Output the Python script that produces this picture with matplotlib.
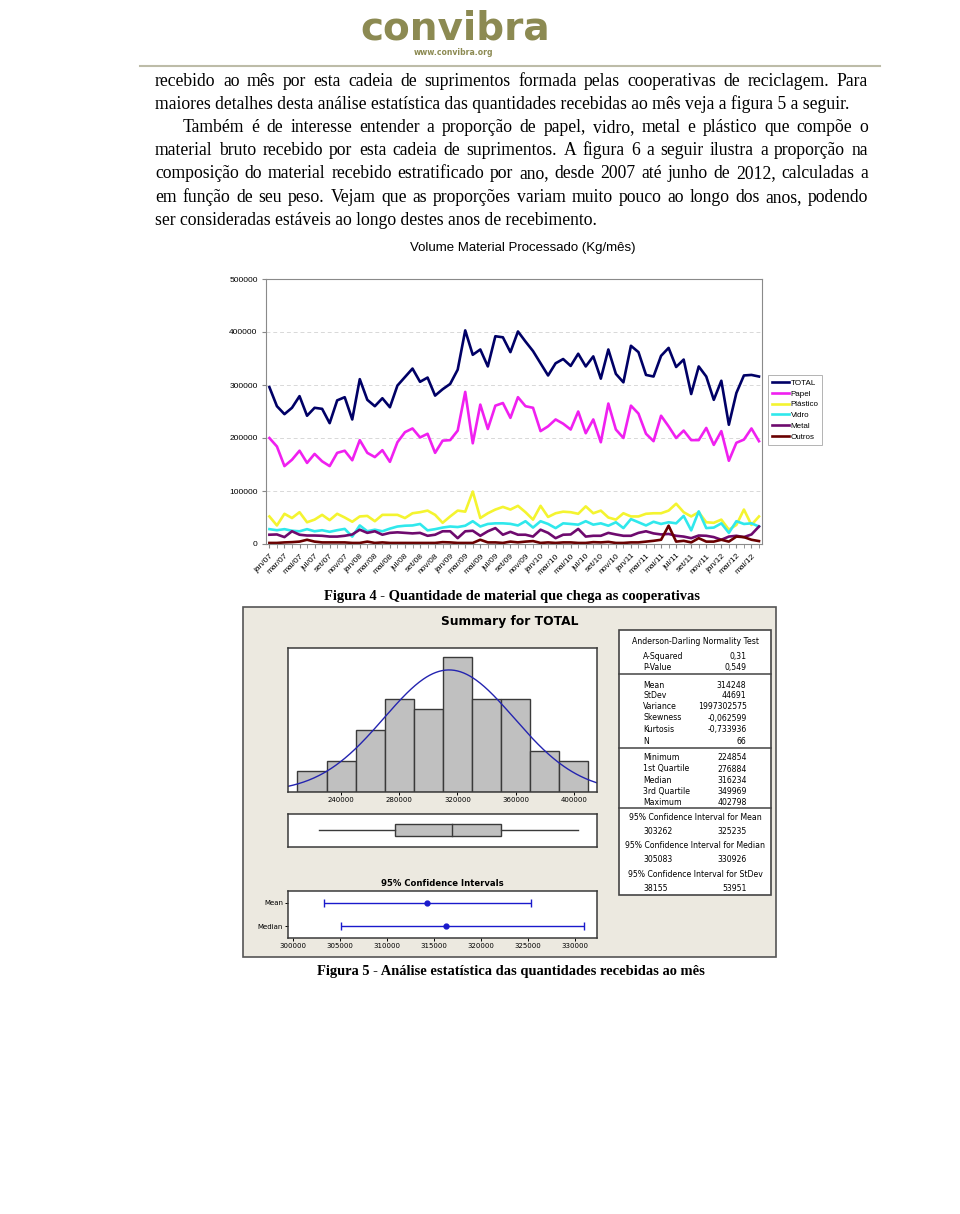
import matplotlib
matplotlib.use('Agg')
import matplotlib.pyplot as plt
import numpy as np
from matplotlib.font_manager import FontProperties
from matplotlib.patches import Rectangle
from matplotlib.lines import Line2D

# ---- data read from the page ----
meses = ['jan', 'fev', 'mar', 'abr', 'mai', 'jun', 'jul', 'ago', 'set', 'out', 'nov', 'dez']
rotulos = [f'{m}/{a:02d}' for a in range(7, 13) for m in meses][:66]

total = [296000, 260000, 245000, 257000, 279000, 242000, 257000, 255000, 228000, 271000,
         277000, 235000, 311000, 272000, 260000, 275000, 258000, 299000, 315000, 331000,
         306000, 314000, 280000, 292000, 302000, 329000, 403000, 357000, 367000, 335000,
         392000, 390000, 362000, 401000, 382000, 364000, 341000, 318000, 341000, 349000,
         336000, 359000, 335000, 354000, 312000, 367000, 321000, 305000, 374000, 362000,
         319000, 316000, 355000, 370000, 334000, 348000, 283000, 335000, 316000, 272000,
         308000, 225000, 285000, 318000, 319000, 316000]
papel = [200000, 184000, 147000, 159000, 176000, 153000, 170000, 156000, 147000, 172000,
         176000, 158000, 196000, 172000, 164000, 177000, 155000, 192000, 211000, 218000,
         201000, 208000, 172000, 195000, 196000, 214000, 287000, 190000, 263000, 217000,
         261000, 266000, 238000, 277000, 260000, 257000, 213000, 222000, 235000, 227000,
         216000, 250000, 209000, 235000, 192000, 265000, 216000, 200000, 261000, 246000,
         208000, 194000, 242000, 222000, 200000, 214000, 196000, 196000, 219000, 187000,
         213000, 157000, 191000, 197000, 218000, 194000]
plastico = [52000, 35000, 57000, 49000, 60000, 41000, 46000, 55000, 45000, 57000,
            50000, 42000, 52000, 53000, 43000, 55000, 55000, 55000, 49000, 58000,
            60000, 63000, 55000, 40000, 52000, 63000, 61000, 99000, 49000, 58000,
            65000, 70000, 65000, 72000, 60000, 46000, 72000, 51000, 58000, 61000,
            60000, 57000, 71000, 58000, 63000, 50000, 46000, 58000, 52000, 52000,
            57000, 58000, 58000, 63000, 76000, 60000, 52000, 60000, 41000, 40000,
            46000, 27000, 36000, 65000, 36000, 52000]
vidro = [28000, 26000, 28000, 25000, 24000, 28000, 24000, 26000, 23000, 26000,
         28500, 14000, 35000, 24000, 27000, 24000, 29000, 33000, 34500, 35000,
         37800, 25700, 28000, 31000, 33000, 32000, 34500, 43000, 33000, 37800,
         39000, 39000, 38000, 35000, 43000, 31000, 43000, 37800, 30000, 39000,
         37800, 36500, 43000, 36500, 39000, 34500, 41000, 30000, 47000, 41000,
         35000, 42000, 37800, 41000, 39000, 53000, 25700, 61600, 30000, 31000,
         39000, 21000, 43000, 37800, 39000, 33000]
metal = [17500, 18000, 13000, 24000, 17500, 16000, 16000, 15500, 14000, 14000,
         15500, 18000, 27000, 21000, 24000, 17500, 21000, 22000, 21000, 20000,
         21000, 15500, 17500, 24000, 24000, 11000, 24000, 25000, 15500, 24000,
         30000, 17500, 23000, 17500, 17500, 14000, 27000, 21000, 11000, 17500,
         18000, 28500, 14000, 15500, 15500, 21000, 18000, 15500, 15500, 21000,
         24000, 20000, 18000, 19000, 15500, 14000, 11000, 16000, 15500, 13000,
         8000, 14000, 15500, 13000, 18000, 33000]
outros = [2000, 2000, 3000, 3500, 4500, 8000, 4500, 3000, 3000, 3000,
          3000, 2000, 2000, 4500, 2000, 3000, 2000, 2000, 2000, 2000,
          2000, 2000, 2000, 3500, 3000, 2000, 2000, 2000, 8000, 3000,
          3000, 2000, 4500, 3000, 4500, 5500, 2000, 3000, 2000, 3000,
          3000, 2000, 2000, 3500, 3000, 4000, 2000, 2000, 3000, 3000,
          4500, 6000, 8000, 34500, 4500, 6000, 3000, 11000, 4500, 4500,
          8000, 4500, 14000, 13000, 8000, 5500]

series = [('TOTAL', total, '#000066'), ('Papel', papel, '#F020F0'),
          ('Plástico', plastico, '#F4F430'), ('Vidro', vidro, '#30E8EC'),
          ('Metal', metal, '#6E0A6E'), ('Outros', outros, '#6A0000')]

# Minitab summary
hist_left = [210000, 230000, 250000, 270000, 290000, 310000, 330000, 350000, 370000, 390000]
hist_counts = [2, 3, 6, 9, 8, 13, 9, 9, 4, 3]
bin_w = 20000
media, desvio, n_obs = 314248, 44691, 66
cinco = dict(minimo=224854, q1=276884, mediana=316234, q3=349969, maximo=402798)
ic_media = (303262, 325235)
ic_mediana = (305083, 330926)

tab_ad = [('A-Squared', '0,31'), ('P-Value', '0,549')]
tab_mom = [('Mean', '314248'), ('StDev', '44691'), ('Variance', '1997302575'),
           ('Skewness', '-0,062599'), ('Kurtosis', '-0,733936'), ('N', '66')]
tab_quart = [('Minimum', '224854'), ('1st Quartile', '276884'), ('Median', '316234'),
             ('3rd Quartile', '349969'), ('Maximum', '402798')]
tab_ic = [('95% Confidence Interval for Mean', '303262', '325235'),
          ('95% Confidence Interval for Median', '305083', '330926'),
          ('95% Confidence Interval for StDev', '38155', '53951')]

texto = [
    'recebido ao mês por esta cadeia de suprimentos formada pelas cooperativas de reciclagem. Para',
    'maiores detalhes desta análise estatística das quantidades recebidas ao mês veja a figura 5 a seguir.',
    'Também é de interesse entender a proporção de papel, vidro, metal e plástico que compõe o',
    'material bruto recebido por esta cadeia de suprimentos. A figura 6 a seguir ilustra a proporção na',
    'composição do material recebido estratificado por ano, desde 2007 até junho de 2012, calculadas a',
    'em função de seu peso. Vejam que as proporções variam muito pouco ao longo dos anos, podendo',
    'ser consideradas estáveis ao longo destes anos de recebimento.',
]
justificar = [True, False, True, True, True, True, False]
recuo = [155, 155, 183, 155, 155, 155, 155]

# ---- page ----
W, H = 960, 1214
fig = plt.figure(figsize=(W / 100, H / 100), dpi=100)
fig.patch.set_facecolor('white')
rend = fig.canvas.get_renderer()
SERIF = 'Liberation Serif'
SANS = 'Liberation Sans'
MINI = 'DejaVu Sans'


def fx(x):
    return x / W


def fy(y):
    return 1 - y / H


def box(x0, y0, x1, y1):
    return [x0 / W, 1 - y1 / H, (x1 - x0) / W, (y1 - y0) / H]


def largura(s, size, family, weight='normal'):
    fp = FontProperties(family=family, size=size, weight=weight)
    return rend.get_text_width_height_descent(s, fp, ismath=False)[0]


def ajusta(s, alvo, family, weight='normal'):
    return 10 * alvo / largura(s, 10, family, weight)


# header logo
oliva = '#8C8A52'
fig.text(fx(455), fy(40), 'convibra', fontsize=ajusta('convibra', 190, MINI, 'bold'),
         family=MINI, weight='bold', color=oliva, ha='center', va='baseline')
fig.text(fx(453), fy(55), 'www.convibra.org', fontsize=ajusta('www.convibra.org', 80, MINI, 'bold'),
         family=MINI, weight='bold', color=oliva, ha='center', va='baseline')
fig.add_artist(Line2D([fx(140), fx(880)], [fy(66), fy(66)], color='#BDBCA8', lw=1.5))

# paragraph, justified word by word
tam = ajusta(texto[1], 851 - 155, SERIF)
for i, linha in enumerate(texto):
    yb = 85.5 + 23.25 * i
    if justificar[i]:
        palavras = linha.split(' ')
        ws = [largura(p, tam, SERIF) for p in palavras]
        gap = (868 - recuo[i] - sum(ws)) / (len(palavras) - 1)
        x = recuo[i]
        for p, wd in zip(palavras, ws):
            fig.text(fx(x), fy(yb), p, fontsize=tam, family=SERIF, va='baseline')
            x += wd + gap
    else:
        fig.text(fx(recuo[i]), fy(yb), linha, fontsize=tam, family=SERIF, va='baseline')

# ---- line chart ----
titulo = 'Volume Material Processado (Kg/mês)'
fig.text(fx(523), fy(248), titulo, fontsize=ajusta(titulo, 227, SANS), family=SANS,
         ha='center', va='center')
ax = fig.add_axes(box(266, 279, 762, 544))
xi = np.arange(len(total))
for nome, vals, cor in series:
    ax.plot(xi, vals, color=cor, lw=1.9, label=nome)
ax.set_xlim(-0.45, 65.4)
ax.set_ylim(0, 500000)
ax.set_yticks(range(0, 500001, 100000))
ax.set_yticklabels([str(v) for v in range(0, 500001, 100000)], family=SANS, fontsize=6)
ax.set_xticks(xi[::2])
ax.set_xticklabels(rotulos[::2], rotation=45, ha='right', rotation_mode='anchor',
                   family=SANS, fontsize=6)
ax.set_xticks(xi, minor=True)
ax.tick_params(axis='x', which='both', length=3, pad=3, color='#888888')
ax.tick_params(axis='y', length=3, pad=3, color='#888888')
ax.yaxis.grid(True, color='#d8d8d8', ls=(0, (4, 3)), lw=0.7)
ax.set_axisbelow(True)
for sp in ax.spines.values():
    sp.set_color('#8a8a8a')
    sp.set_linewidth(0.8)
leg = ax.legend(loc='center left', bbox_to_anchor=(fx(768), fy(410)), bbox_transform=fig.transFigure,
                prop=FontProperties(family=SANS, size=5.8), fancybox=False, edgecolor='#a0a0a0',
                borderpad=0.45, handlelength=2.2, handletextpad=0.15, labelspacing=0.4,
                borderaxespad=0)
leg.get_frame().set_linewidth(0.7)

cap4 = 'Figura 4 - Quantidade de material que chega as cooperativas'
fig.text(fx(511.5), fy(597), cap4, fontsize=ajusta(cap4, 379, SERIF, 'bold'), family=SERIF,
         weight='bold', ha='center', va='center')

# ---- Minitab graphical summary ----
fig.add_artist(Rectangle((fx(243), fy(957)), (776 - 243) / W, (957 - 607) / H,
                         transform=fig.transFigure, facecolor='#ECE9E0', edgecolor='#555555',
                         lw=1.2, zorder=-1))
tit = 'Summary for TOTAL'
fig.text(fx(510), fy(621), tit, fontsize=ajusta(tit, 137, MINI, 'bold'), family=MINI,
         weight='bold', ha='center', va='center')

escuro = '#3a3a3a'
hax = fig.add_axes(box(288, 648, 597, 792))
hax.bar(hist_left, hist_counts, width=bin_w, align='edge', color='#C0C0C0', edgecolor=escuro, lw=1.0)
xs = np.linspace(203500, 416000, 300)
curva = n_obs * bin_w * np.exp(-0.5 * ((xs - media) / desvio) ** 2) / (desvio * np.sqrt(2 * np.pi))
hax.plot(xs, curva, color='#2424B0', lw=1.0)
hax.set_xlim(203500, 416000)
hax.set_ylim(0, 13.9)
hax.set_yticks([])
hax.set_xticks(range(240000, 400001, 40000))
hax.set_xticklabels([str(v) for v in range(240000, 400001, 40000)], family=MINI, fontsize=5)
hax.tick_params(axis='x', length=2, width=0.7, pad=1.5)

bax = fig.add_axes(box(288, 814, 597, 847))
bax.add_patch(Rectangle((cinco['q1'], 0.33), cinco['q3'] - cinco['q1'], 0.37,
                        facecolor='#C0C0C0', edgecolor=escuro, lw=1.0))
bax.plot([cinco['mediana'], cinco['mediana']], [0.33, 0.70], color=escuro, lw=1.0)
bax.plot([cinco['minimo'], cinco['q1']], [0.515, 0.515], color=escuro, lw=1.0)
bax.plot([cinco['q3'], cinco['maximo']], [0.515, 0.515], color=escuro, lw=1.0)
bax.set_xlim(203500, 416000)
bax.set_ylim(0, 1)
bax.set_xticks([])
bax.set_yticks([])

t95 = '95% Confidence Intervals'
fig.text(fx(442.5), fy(884), t95, fontsize=ajusta(t95, 122, MINI, 'bold'), family=MINI,
         weight='bold', ha='center', va='center')
cax = fig.add_axes(box(288, 891, 597, 938))
azul = '#1a1acc'
for yv, (lo, hi), pt in [(1, ic_media, media), (0, ic_mediana, cinco['mediana'])]:
    cax.errorbar([pt], [yv], xerr=[[pt - lo], [hi - pt]], fmt='o', color=azul, ms=3.5,
                 capsize=3, elinewidth=1, capthick=1)
cax.set_xlim(299470, 332300)
cax.set_ylim(-0.5, 1.5)
cax.set_yticks([1, 0])
cax.set_yticklabels(['Mean', 'Median'], family=MINI, fontsize=5)
cax.set_xticks(range(300000, 330001, 5000))
cax.set_xticklabels([str(v) for v in range(300000, 330001, 5000)], family=MINI, fontsize=5)
cax.tick_params(length=2, width=0.7, pad=1.5)

for a in (hax, bax, cax):
    a.set_facecolor('white')
    for sp in a.spines.values():
        sp.set_color(escuro)
        sp.set_linewidth(1.1)

# statistics table
fig.add_artist(Rectangle((fx(619), fy(895)), (771 - 619) / W, (895 - 630) / H,
                         transform=fig.transFigure, facecolor='white', edgecolor='#444444', lw=1.2))
for ys in (674.3, 748.3, 807.7):
    fig.add_artist(Line2D([fx(619), fx(771)], [fy(ys), fy(ys)], color='#444444', lw=1.1))
cab = 'Anderson-Darling Normality Test'
tf = ajusta(cab, 126, MINI)
fig.text(fx(695), fy(641.7), cab, fontsize=tf, family=MINI, ha='center', va='center')
linhas_y = [656.7, 667.7, 685, 695.9, 706.8, 718, 729.5, 741, 757.7, 769, 780.5, 791.7, 802.7]
for (rot, val), yy in zip(tab_ad + tab_mom + tab_quart, linhas_y):
    fig.text(fx(643), fy(yy), rot, fontsize=tf, family=MINI, ha='left', va='center')
    fig.text(fx(746.5), fy(yy), val, fontsize=tf, family=MINI, ha='right', va='center')
for k, (rot, v1, v2) in enumerate(tab_ic):
    y0 = 817.7 + 28.3 * k
    fig.text(fx(695), fy(y0), rot, fontsize=tf, family=MINI, ha='center', va='center')
    fig.text(fx(643), fy(y0 + 14), v1, fontsize=tf, family=MINI, ha='left', va='center')
    fig.text(fx(746.5), fy(y0 + 14), v2, fontsize=tf, family=MINI, ha='right', va='center')

cap5 = 'Figura 5 - Análise estatística das quantidades recebidas ao mês'
fig.text(fx(511), fy(971), cap5, fontsize=ajusta(cap5, 390, SERIF, 'bold'), family=SERIF,
         weight='bold', ha='center', va='center')

fig.savefig('out.png', dpi=100)
